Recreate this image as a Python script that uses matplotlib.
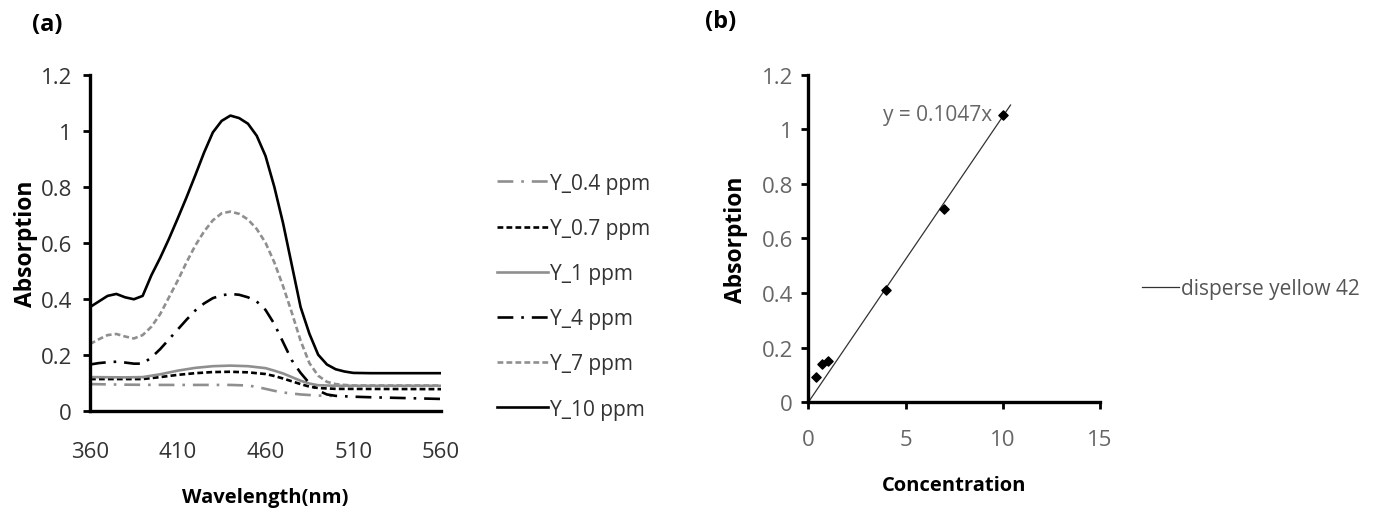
import matplotlib
matplotlib.use("Agg")
import matplotlib.pyplot as plt
import numpy as np

plt.rcParams['font.family'] = ['Open Sans', 'DejaVu Sans']

# ---- data: (a) spectra ----
wl_04 = [360, 380, 400, 420, 440, 450, 455, 460, 465, 470, 480, 490, 498]
ab_04 = [0.095, 0.093, 0.092, 0.092, 0.092, 0.090, 0.085, 0.078, 0.071, 0.065, 0.058, 0.054, 0.053]

wl_07 = [360, 380, 390, 400, 410, 420, 430, 440, 450, 460, 465, 470, 475, 480, 485, 490, 500, 560]
ab_07 = [0.113, 0.113, 0.113, 0.120, 0.128, 0.134, 0.138, 0.139, 0.137, 0.131, 0.124, 0.115, 0.105, 0.095, 0.086, 0.081, 0.078, 0.077]

wl_1 = [360, 380, 390, 400, 410, 420, 430, 440, 450, 460, 465, 470, 475, 480, 485, 490, 500, 560]
ab_1 = [0.120, 0.119, 0.120, 0.130, 0.143, 0.153, 0.159, 0.161, 0.159, 0.152, 0.143, 0.133, 0.120, 0.107, 0.097, 0.091, 0.089, 0.089]

wl_4 = [360, 365, 370, 375, 380, 385, 390, 395, 400, 405, 410, 415, 420, 425, 430, 435, 440, 445, 450, 455,
        460, 465, 470, 475, 480, 485, 490, 495, 500, 510, 520, 540, 560]
ab_4 = [0.165, 0.170, 0.173, 0.175, 0.172, 0.168, 0.168, 0.190, 0.220, 0.255, 0.290, 0.325, 0.358, 0.383, 0.402, 0.412, 0.417, 0.414, 0.405, 0.390,
        0.360, 0.310, 0.245, 0.180, 0.135, 0.098, 0.072, 0.058, 0.053, 0.050, 0.048, 0.045, 0.042]

wl_7 = [360, 365, 370, 375, 380, 385, 390, 395, 400, 405, 410, 415, 420, 425, 430, 435, 440, 445, 450, 455,
        460, 465, 470, 475, 480, 485, 490, 495, 500, 505, 510, 560]
ab_7 = [0.238, 0.255, 0.270, 0.274, 0.265, 0.258, 0.270, 0.300, 0.345, 0.405, 0.465, 0.530, 0.590, 0.640, 0.680, 0.705, 0.711, 0.703, 0.683, 0.649,
        0.600, 0.530, 0.445, 0.350, 0.250, 0.170, 0.125, 0.103, 0.095, 0.092, 0.090, 0.090]

wl_10 = [360, 365, 370, 375, 380, 385, 390, 395, 400, 405, 410, 415, 420, 425, 430, 435, 440, 445, 450, 455,
         460, 465, 470, 475, 480, 485, 490, 495, 500, 505, 510, 520, 540, 560]
ab_10 = [0.370, 0.390, 0.410, 0.417, 0.405, 0.398, 0.410, 0.484, 0.546, 0.614, 0.687, 0.762, 0.841, 0.922, 0.994, 1.035, 1.054, 1.045, 1.025, 0.982,
         0.910, 0.800, 0.670, 0.520, 0.370, 0.275, 0.200, 0.165, 0.148, 0.140, 0.135, 0.134, 0.134, 0.134]

series_labels = ['Y_0.4 ppm', 'Y_0.7 ppm', 'Y_1 ppm', 'Y_4 ppm', 'Y_7 ppm', 'Y_10 ppm']

# ---- data: (b) calibration ----
conc = [0.4, 0.7, 1.0, 4.0, 7.0, 10.0]
peak_abs = [0.092, 0.140, 0.153, 0.413, 0.708, 1.054]
slope = 0.1047
fit_range = [0.0, 10.4]

GRAY = '#8f8f8f'

fig = plt.figure(figsize=(13.74, 5.10), dpi=100)

# ---------------- (a) ----------------
ax1 = fig.add_axes([90/1374, 1-411.7/510, 351/1374, 336/510])
styles = [
    dict(color=GRAY, dashes=(6, 3, 1, 3)),
    dict(color='black', dashes=(2.2, 1.2)),
    dict(color=GRAY),
    dict(color='black', dashes=(6, 3, 1, 3)),
    dict(color=GRAY, dashes=(2.2, 1.2)),
    dict(color='black'),
]
data = [(wl_04, ab_04), (wl_07, ab_07), (wl_1, ab_1), (wl_4, ab_4), (wl_7, ab_7), (wl_10, ab_10)]
handles = []
for (x, y), st, lab in zip(data, styles, series_labels):
    h, = ax1.plot(x, y, lw=1.9, label=lab, **st)
    handles.append(h)

ax1.set_xlim(360, 560)
ax1.set_ylim(0, 1.2)
ax1.set_xticks([360, 410, 460, 510, 560])
ax1.set_yticks([0, 0.2, 0.4, 0.6, 0.8, 1.0, 1.2])
ax1.set_yticklabels(['0', '0.2', '0.4', '0.6', '0.8', '1', '1.2'])
for s in ['top', 'right']:
    ax1.spines[s].set_visible(False)
for s in ['left', 'bottom']:
    ax1.spines[s].set_linewidth(2.4)
ax1.tick_params(axis='y', direction='out', length=5, width=2.0, colors='black', labelcolor='#333333', labelsize=16, pad=8)
ax1.tick_params(axis='x', direction='out', length=0, labelcolor='#333333', labelsize=16, pad=22)
ax1.set_xlabel('Wavelength(nm)', fontsize=14.5, fontweight='bold', labelpad=18)
ax1.set_ylabel('Absorption', fontsize=16.5, fontweight='bold', labelpad=2)

fig.legend(handles=handles, labels=series_labels, loc='upper left',
           bbox_to_anchor=(478/1374, 1-155/510), frameon=False, fontsize=15,
           handlelength=2.45, handletextpad=0.1, labelspacing=1.16, labelcolor='#333333')

fig.text(32/1374, 1-25/510, '(a)', fontsize=17, fontweight='bold', ha='left', va='center')

# ---------------- (b) ----------------
ax2 = fig.add_axes([808.3/1374, 1-403.3/510, 291.7/1374, 327.6/510])
ax2.scatter(conc, peak_abs, marker='D', s=22, color='black', zorder=3)
xf = np.array(fit_range)
line, = ax2.plot(xf, slope * xf, color='#333333', lw=0.9, label='disperse yellow 42')
ax2.set_xlim(0, 15)
ax2.set_ylim(0, 1.2)
ax2.set_xticks([0, 5, 10, 15])
ax2.set_yticks([0, 0.2, 0.4, 0.6, 0.8, 1.0, 1.2])
ax2.set_yticklabels(['0', '0.2', '0.4', '0.6', '0.8', '1', '1.2'])
for s in ['top', 'right']:
    ax2.spines[s].set_visible(False)
for s in ['left', 'bottom']:
    ax2.spines[s].set_linewidth(2.4)
ax2.tick_params(axis='both', direction='out', length=5, width=2.0, colors='black', labelcolor='#666666', labelsize=16)
ax2.tick_params(axis='y', pad=6)
ax2.tick_params(axis='x', pad=14)
ax2.set_xlabel('Concentration', fontsize=14.5, fontweight='bold', labelpad=18)
ax2.set_ylabel('Absorption', fontsize=16.5, fontweight='bold', labelpad=10)
ax2.text(3.85, 1.054, 'y = 0.1047x', fontsize=15, color='#666666', ha='left', va='center')

fig.legend(handles=[line], labels=['disperse yellow 42'], loc='center left',
           bbox_to_anchor=(1123/1374, 1-290/510), frameon=False, fontsize=15,
           handlelength=1.8, handletextpad=0.1, labelcolor='#555555')

fig.text(705/1374, 1-22/510, '(b)', fontsize=17, fontweight='bold', ha='left', va='center')

fig.savefig('out.png', dpi=100)
